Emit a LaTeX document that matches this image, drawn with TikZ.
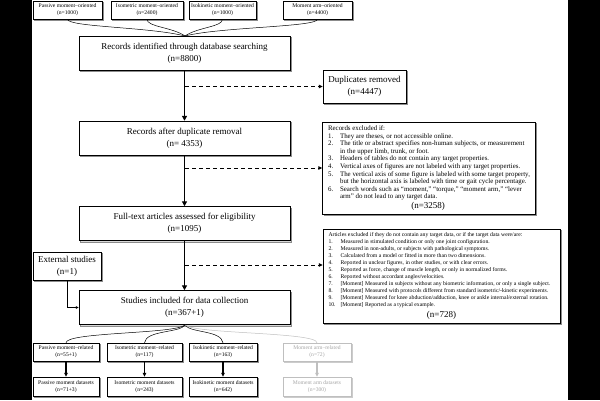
\documentclass[tikz,border=0pt]{standalone}
\usepackage{fontspec}
\setmainfont{Liberation Serif}
\usetikzlibrary{arrows.meta,shadows,calc}
\newcommand\li[2]{\makebox[12pt][l]{#1}#2}
\newcommand\lc[1]{\hspace*{12pt}#1}
\begin{document}
\begin{tikzpicture}[x=1pt,y=-1pt,
  every node/.style={inner sep=0pt},
  boxbase/.style={draw=black, line width=0.45pt, fill=white, align=center},
  shad/.style={general shadow={shadow xshift=1.2pt, shadow yshift=-1.2pt, fill=black!15, draw=black!45, line width=0.3pt}},
  graybox/.style={draw=black!25, line width=0.45pt, fill=white, align=center, text=black!35,
     general shadow={shadow xshift=1.2pt, shadow yshift=-1.2pt, fill=black!6, draw=black!20, line width=0.3pt}},
  mainbox/.style={boxbase, shad, minimum width=211pt, minimum height=34pt, font=\fontsize{9}{12}\selectfont},
  smallbox/.style={boxbase, shad, minimum height=18pt, font=\fontsize{5.6}{7}\selectfont},
  gsmallbox/.style={graybox, minimum height=18pt, font=\fontsize{5.6}{7}\selectfont},
  sidebox/.style={boxbase, shad, font=\fontsize{9}{12}\selectfont},
  listbox/.style={boxbase, shad, align=left, inner xsep=5.5pt},
  mainarrow/.style={solid, line width=1.8pt, line cap=butt, draw=black, -{Triangle[length=5pt,width=5pt]}},
  dasharrow/.style={line width=1pt, dash pattern=on 4pt off 3pt, -{Triangle[length=4pt,width=3.5pt]}},
  thinarrow/.style={solid, line width=0.7pt, -{Triangle[length=3pt,width=2.5pt]}},
  brace/.style={solid, line width=0.5pt},
  gbrace/.style={solid, line width=0.5pt, draw=black!25},
  dsarrow/.style={solid, line width=1.3pt, -{Triangle[length=4pt,width=3.5pt]}},
]
\useasboundingbox (0,0) rectangle (600,400);
\fill[black] (0,0) rectangle (600,400);
\fill[white] (32,0) rectangle (568,400);

% top source boxes
\node[smallbox, minimum width=69pt] (tp) at (67.5,10) {Passive moment--oriented\\(n=1000)};
\node[smallbox, minimum width=72pt] (ti) at (147,10) {Isometric moment--oriented\\(n=2400)};
\node[smallbox, minimum width=67pt] (tk) at (222.5,10) {Isokinetic moment--oriented\\(n=1000)};
\node[smallbox, minimum width=69pt] (tm) at (317.5,10) {Moment arm--oriented\\(n=4400)};

% main column
\node[mainbox] (rid) at (184.5,53) {Records identified through database searching\\(n=8800)};
\node[mainbox] (rad) at (184.5,138) {Records after duplicate removal\\(n= 4353)};
\node[mainbox] (fta) at (184.5,223.5) {Full-text articles assessed for eligibility\\(n=1095)};
\node[mainbox] (sid) at (184.5,307.5) {Studies included for data collection\\(n=367+1)};

% side boxes
\node[sidebox, minimum width=83pt, minimum height=33pt] (dup) at (364.5,86.5) {Duplicates removed\\(n=4447)};
\node[sidebox, minimum width=68pt, minimum height=28pt] (ext) at (67,266) {External studies\\(n=1)};

\node[listbox, minimum width=212pt, minimum height=92pt, font=\fontsize{6.9}{7.6}\selectfont] (rex) at (429,168) {%
Records excluded if:\\
\li{1.}{They are theses, or not accessible online.}\\
\li{2.}{The title or abstract specifies non-human subjects, or measurement}\\
\lc{in the upper limb, trunk, or foot.}\\
\li{3.}{Headers of tables do not contain any target properties.}\\
\li{4.}{Vertical axes of figures are not labeled with any target properties.}\\
\li{5.}{The vertical axis of some figure is labeled with some target property,}\\
\lc{but the horizontal axis is labeled with time or gait cycle percentage.}\\
\li{6.}{Search words such as “moment,” “torque,” “moment arm,” “lever}\\
\lc{arm” do not lead to any target data.}\\[1pt]
\makebox[200pt][c]{\fontsize{9}{9}\selectfont (n=3258)}};

\node[listbox, minimum width=237pt, minimum height=94pt, font=\fontsize{5.7}{7}\selectfont] (art) at (441.5,276) {%
Articles excluded if they do not contain any target data, or if the target data were/are:\\
\li{1.}{Measured in stimulated condition or only one joint configuration.}\\
\li{2.}{Measured in non-adults, or subjects with pathological symptoms.}\\
\li{3.}{Calculated from a model or fitted in more than two dimensions.}\\
\li{4.}{Reported in unclear figures, in other studies, or with clear errors.}\\
\li{5.}{Reported as force, change of muscle length, or only in normalized forms.}\\
\li{6.}{Reported without accordant angles/velocities.}\\
\li{7.}{[Moment] Measured in subjects without any biometric information, or only a single subject.}\\
\li{8.}{[Moment] Measured with protocols different from standard isometric/-kinetic experiments.}\\
\li{9.}{[Moment] Measured for knee abduction/adduction, knee or ankle internal/external rotation.}\\
\li{10.}{[Moment] Reported as a typical example.}\\[2pt]
\makebox[226pt][c]{\fontsize{9}{9}\selectfont (n=728)}};

% bottom rows
\node[smallbox, minimum width=66pt] (rp) at (66,352) {Passive moment--related\\(n=55+1)};
\node[smallbox, minimum width=75pt] (ri) at (144.5,352) {Isometric moment--related\\(n=117)};
\node[smallbox, minimum width=68pt] (rk) at (223,352) {Isokinetic moment--related\\(n=163)};
\node[gsmallbox, minimum width=68pt] (rm) at (317,352) {Moment arm--related\\(n=72)};

\node[smallbox, minimum width=66pt, minimum height=19pt] (dp) at (66,386.5) {Passive moment datasets\\(n=71+3)};
\node[smallbox, minimum width=75pt, minimum height=19pt] (di) at (144.5,386.5) {Isometric moment datasets\\(n=243)};
\node[smallbox, minimum width=68pt, minimum height=19pt] (dk) at (223,386.5) {Isokinetic moment datasets\\(n=642)};
\node[gsmallbox, minimum width=68pt, minimum height=19pt] (dm) at (317,386.5) {Moment arm datasets\\(n=300)};

% top brace
\coordinate (tt) at (185,36);
\draw[brace] (tp.south) .. controls (67.5,27) and (150,27) .. (tt);
\draw[brace] (ti.south) .. controls (147,27) and (172,27) .. (tt);
\draw[brace] (tk.south) .. controls (222.5,27) and (198,27) .. (tt);
\draw[brace] (tm.south) .. controls (317.5,27) and (220,27) .. (tt);

% main arrows
\draw[mainarrow] (rid.south) -- (rad.north);
\draw[mainarrow] (rad.south) -- (fta.north);
\draw[mainarrow] (fta.south) -- (sid.north);

% dashed exclusions
\coordinate (d1) at (185,86.5);
\coordinate (d2) at (185,168);
\coordinate (d3) at (185,265);
\draw[dasharrow] (d1) -- (dup.west);
\draw[dasharrow] (d2) -- (rex.west);
\draw[dasharrow] (d3) -- (d3 -| art.west);

% external
\draw[thinarrow] (ext.south) |- (sid.west);

% bottom brace
\coordinate (bt) at (185,325);
\draw[brace] (bt) .. controls (175,334) and (66,332) .. (rp.north);
\draw[brace] (bt) .. controls (180,333) and (146,330) .. (ri.north);
\draw[brace] (bt) .. controls (190,333) and (221,330) .. (rk.north);
\draw[gbrace] (bt) .. controls (195,334) and (317,332) .. (rm.north);

% dataset arrows
\draw[dsarrow] (rp.south) -- (dp.north);
\draw[dsarrow] (ri.south) -- (di.north);
\draw[dsarrow] (rk.south) -- (dk.north);
\draw[dsarrow, black!25] (rm.south) -- (dm.north);
\end{tikzpicture}
\end{document}
